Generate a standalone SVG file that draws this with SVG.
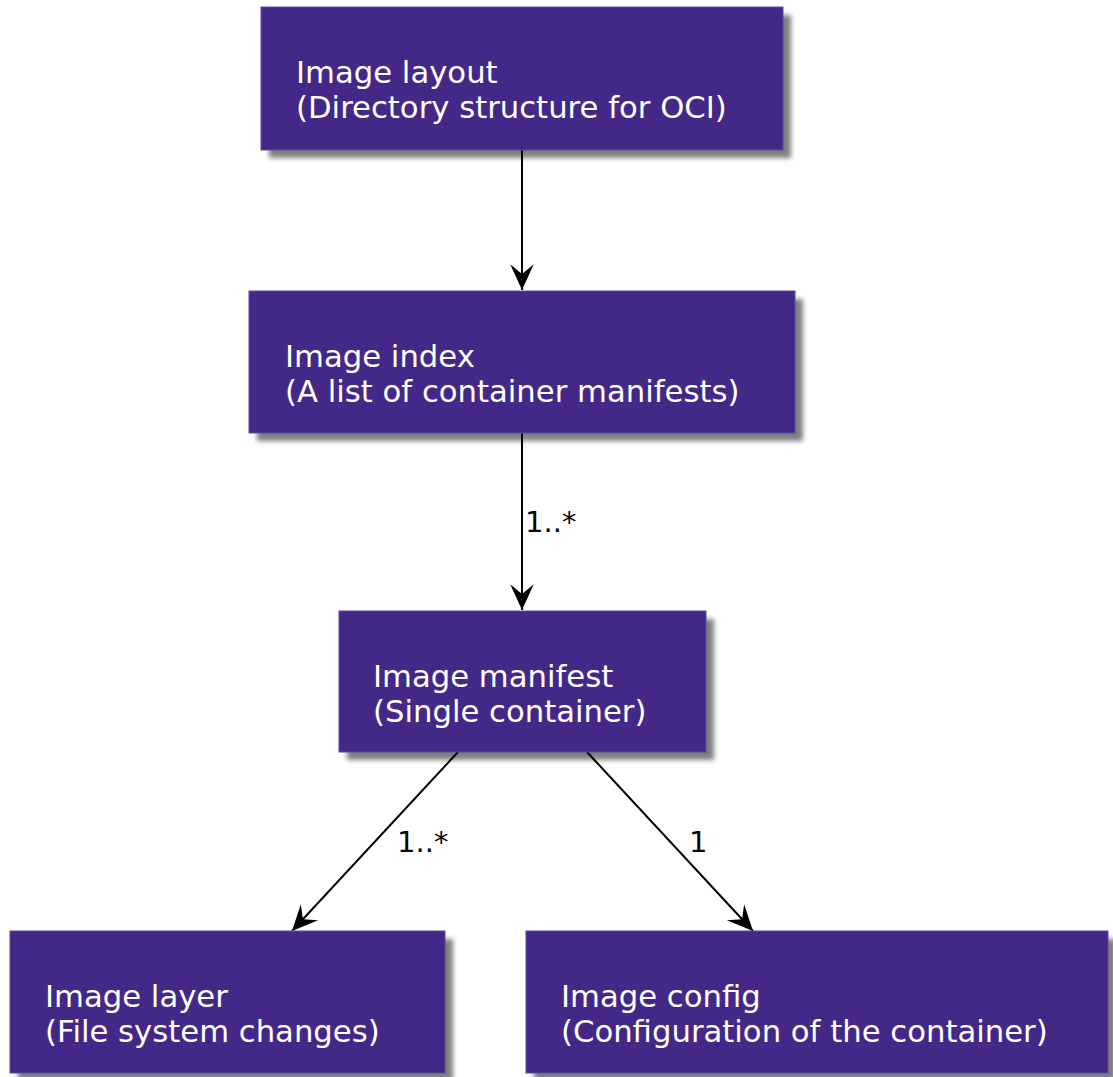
<svg xmlns="http://www.w3.org/2000/svg" width="1113" height="1077" viewBox="0 0 1113 1077">
<style>
.box{fill:#432887;stroke:#5e48a0;stroke-width:1}
.shadow{fill:#000;opacity:0.5;filter:url(#blur)}
.t{font-family:"DejaVu Sans",Verdana,sans-serif;font-size:30.7px;fill:#ffffff}
.lbl{font-family:"DejaVu Sans",Verdana,sans-serif;font-size:29px;fill:#000000}
.edge{stroke:#000;stroke-width:2;fill:none;marker-end:url(#vee)}
</style>
<defs>
<filter id="blur" x="-10%" y="-10%" width="120%" height="130%"><feGaussianBlur stdDeviation="2.5"/></filter>
<marker id="vee" markerUnits="userSpaceOnUse" markerWidth="30" markerHeight="30" viewBox="-26 -12 28 24" refX="0" refY="0" orient="auto">
<path d="M0,0 L-24,-11 L-15,0 L-24,11 Z" fill="#000"/>
</marker>
</defs>
<rect width="1113" height="1077" fill="#fff"/>
<g id="connectors">
<line class="edge" x1="522" y1="150" x2="522" y2="290"/>
<line class="edge" x1="522" y1="433" x2="522" y2="610"/>
<text class="lbl" x="525" y="532">1..*</text>
<line class="edge" x1="458" y1="752" x2="292" y2="931"/>
<text class="lbl" x="397" y="852">1..*</text>
<line class="edge" x1="587" y1="752" x2="753" y2="931"/>
<text class="lbl" x="689" y="852">1</text>
</g>
<g id="image-layout">
<rect class="shadow" x="269" y="15" width="522" height="143"/>
<rect class="box" x="261" y="7" width="522" height="143"/>
<text class="t" x="296" y="83">Image layout</text>
<text class="t" x="296" y="118">(Directory structure for OCI)</text>
</g>
<g id="image-index">
<rect class="shadow" x="257" y="299" width="546" height="142"/>
<rect class="box" x="249" y="291" width="546" height="142"/>
<text class="t" x="285" y="367">Image index</text>
<text class="t" x="285" y="402">(A list of container manifests)</text>
</g>
<g id="image-manifest">
<rect class="shadow" x="347" y="619" width="367" height="141"/>
<rect class="box" x="339" y="611" width="367" height="141"/>
<text class="t" x="373" y="687">Image manifest</text>
<text class="t" x="373" y="722">(Single container)</text>
</g>
<g id="image-layer">
<rect class="shadow" x="18" y="939" width="435" height="142"/>
<rect class="box" x="10" y="931" width="435" height="142"/>
<text class="t" x="45" y="1007">Image layer</text>
<text class="t" x="45" y="1042">(File system changes)</text>
</g>
<g id="image-config">
<rect class="shadow" x="534" y="939" width="582" height="142"/>
<rect class="box" x="526" y="931" width="582" height="142"/>
<text class="t" x="561" y="1007">Image config</text>
<text class="t" x="561" y="1042">(Configuration of the container)</text>
</g>
</svg>
